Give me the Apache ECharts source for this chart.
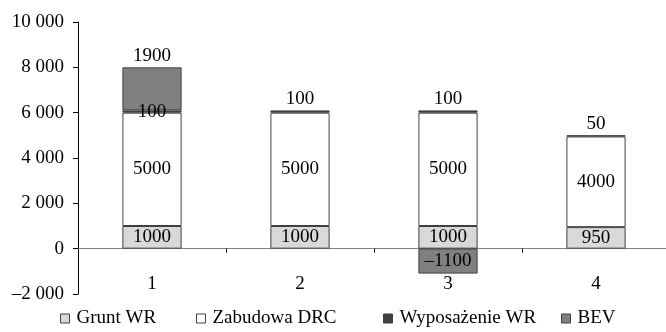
<!DOCTYPE html>
<html>
<head>
<meta charset="utf-8">
<script src="https://cdn.jsdelivr.net/npm/echarts@6/dist/echarts.min.js"></script>
<style>
  html, body { margin: 0; padding: 0; background: #fff; }
  #chart { width: 666px; height: 332px; }
</style>
</head>
<body>
<div id="chart"></div>
<script>
// dane wykresu
const categories = ['1', '2', '3', '4'];
const seriesNames = ['Grunt WR', 'Zabudowa DRC', 'Wyposażenie WR', 'BEV'];
const gruntWR = [1000, 1000, 1000, 950];
const zabudowaDRC = [5000, 5000, 5000, 4000];
const wyposazenieWR = [100, 100, 100, 50];
const bev = [1900, null, -1100, null];
const yTicks = [-2000, 0, 2000, 4000, 6000, 8000, 10000];

// gdzie stoi etykieta kazdego slupka
const labelPos = {
  'Grunt WR': ['inside', 'inside', 'inside', 'inside'],
  'Zabudowa DRC': ['inside', 'inside', 'inside', 'inside'],
  'Wyposażenie WR': ['inside', 'top', 'top', 'top'],
  'BEV': ['top', 'inside', 'inside', 'inside']
};
const colors = ['#d9d9d9', '#ffffff', '#404040', '#808080'];
const legendLeft = [60, 196, 383, 561];

const FONT = '"Liberation Serif", "Times New Roman", serif';
const FS = 19;

function fmtNum(v) {
  return (v < 0 ? '\u2013' : '') + Math.abs(v);
}
function fmtTick(v) {
  let s = String(Math.abs(v)).replace(/\B(?=(\d{3})+(?!\d))/g, ' ');
  return (v < 0 ? '\u2013' : '') + s;
}

const values = [gruntWR, zabudowaDRC, wyposazenieWR, bev];

const myChart = echarts.init(document.getElementById('chart'));

let series = seriesNames.map((name, si) => ({
  name: name,
  type: 'bar',
  stack: 'total',
  barWidth: '40%',
  animation: false,
  itemStyle: { color: colors[si], borderColor: '#404040', borderWidth: 1 },
  data: values[si].map((v, i) => ({
    value: v,
    label: {
      show: v !== null,
      position: labelPos[name][i],
      distance: 2,
      formatter: p => fmtNum(p.value),
      color: '#000',
      fontFamily: FONT,
      fontSize: FS
    }
  }))
}));

let legends = seriesNames.map((name, i) => ({
  data: [name],
  left: legendLeft[i],
  top: 309,
  padding: 0,
  icon: 'rect',
  itemWidth: 9,
  itemHeight: 9,
  itemGap: 0,
  selectedMode: false,
  itemStyle: { borderColor: '#404040', borderWidth: 1 },
  textStyle: { fontFamily: FONT, fontSize: FS, color: '#000', padding: [0, 0, 0, 2] }
}));

let option = {
  backgroundColor: '#fff',
  animation: false,
  legend: legends,
  grid: { left: 78, right: -4, top: 22, bottom: 38, containLabel: false, outerBoundsMode: 'none' },
  xAxis: {
    type: 'category',
    data: categories,
    axisLine: { onZero: true, lineStyle: { color: '#808080', width: 1 } },
    axisTick: { show: true, length: 4, lineStyle: { color: '#000' } },
    axisLabel: { margin: -19, color: '#000', fontFamily: FONT, fontSize: FS },
    splitLine: { show: false }
  },
  yAxis: {
    type: 'value',
    min: yTicks[0],
    max: yTicks[yTicks.length - 1],
    interval: 2000,
    axisLine: { show: true, lineStyle: { color: '#000', width: 1 } },
    axisTick: { show: true, inside: false, length: 5, lineStyle: { color: '#000' } },
    axisLabel: { margin: 14, color: '#000', fontFamily: FONT, fontSize: FS, formatter: v => fmtTick(v) },
    splitLine: { show: false }
  },
  series: series
};

myChart.setOption(option);
</script>
</body>
</html>
